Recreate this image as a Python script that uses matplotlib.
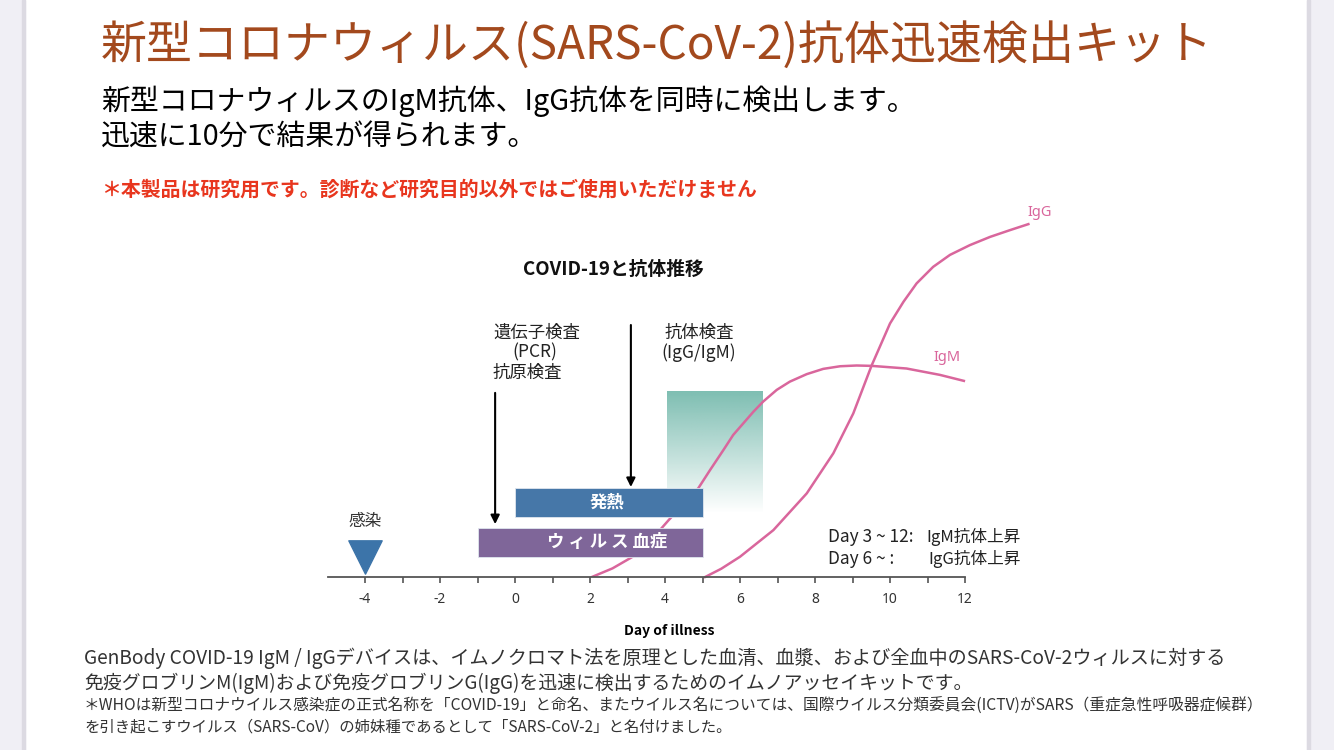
import numpy as np
import matplotlib
matplotlib.use('Agg')
import matplotlib.pyplot as plt
from matplotlib.patches import Rectangle

plt.rcParams['font.family'] = ['Noto Sans CJK JP', 'DejaVu Sans']

# --- data ---
igm_days = [2.05, 2.6, 3.12, 3.6, 4.1, 4.89, 5.2, 5.56, 5.82, 6.09, 6.36, 6.62, 6.98, 7.33, 7.78,
            8.22, 8.67, 9.11, 9.51, 10.44, 11.33, 11.97]
igm_level = [0, 2.3, 5.3, 9.5, 15.2, 23.7, 28.5, 33.9, 37.9, 41.0, 44.1, 46.8, 49.9, 52.1, 54.1,
             55.5, 56.2, 56.4, 56.3, 55.6, 53.9, 52.3]
igg_days = [5.07, 5.5, 6.0, 6.89, 7.78, 8.49, 9.02, 9.51, 10.0, 10.36, 10.71, 11.15, 11.6, 12.13,
            12.67, 13.2, 13.69]
igg_level = [0, 2.2, 5.4, 12.5, 22.3, 33.0, 43.6, 56.4, 67.6, 73.4, 78.3, 82.7, 85.9, 88.5,
             90.7, 92.5, 94.1]

bar_names = ['発熱', 'ウ ィ ル ス 血症']
bar_start = [0, -1]
bar_end = [5, 5]
bar_level = [19.8, 9.3]
bar_colors = ['#4677a8', '#7f6699']

infection_day = -4
pcr_day = -0.53
antibody_day = 3.09
test_window = [4.05, 6.6]

tick_days = list(range(-4, 13))
tick_labels = [str(d) if d % 2 == 0 else '' for d in tick_days]

W, H = 1334, 750
fig = plt.figure(figsize=(W / 100, H / 100), dpi=100)
fig.patch.set_facecolor('white')

# side strips of the page
fig.patches.append(Rectangle((0, 0), 25 / W, 1, transform=fig.transFigure, color='#f0eff5', zorder=0))
fig.patches.append(Rectangle((22 / W, 0), 3 / W, 1, transform=fig.transFigure, color='#dcdae2', zorder=0))
fig.patches.append(Rectangle((1307 / W, 0), 27 / W, 1, transform=fig.transFigure, color='#f0eff5', zorder=0))
fig.patches.append(Rectangle((1307 / W, 0), 3 / W, 1, transform=fig.transFigure, color='#dcdae2', zorder=0))

def px(x, y):
    return x / W, 1 - y / H

jp = ['Noto Sans CJK JP', 'DejaVu Sans']

fig.text(*px(101, 46), '新型コロナウィルス(SARS-CoV-2)抗体迅速検出キット', fontsize=33.1,
         color='#a3491d', va='center', ha='left', family=jp)
fig.text(*px(101, 101), '新型コロナウィルスのIgM抗体、IgG抗体を同時に検出します。', fontsize=20.8,
         color='black', va='center', ha='left', family=jp)
fig.text(*px(101, 137), '迅速に10分で結果が得られます。', fontsize=20.8,
         color='black', va='center', ha='left', family=jp)
fig.text(*px(101, 189), '＊本製品は研究用です。診断など研究目的以外ではご使用いただけません', fontsize=14.3,
         color='#e8361e', va='center', ha='left', weight='bold', family=jp)

fig.text(*px(84, 658), 'GenBody COVID-19 IgM / IgGデバイスは、イムノクロマト法を原理とした血清、血漿、および全血中のSARS-CoV-2ウィルスに対する',
         fontsize=13.8, color='#333333', va='center', ha='left', family=jp)
fig.text(*px(84, 683), '免疫グロブリンM(IgM)および免疫グロブリンG(IgG)を迅速に検出するためのイムノアッセイキットです。',
         fontsize=13.6, color='#333333', va='center', ha='left', family=jp)
fig.text(*px(84, 706), '＊WHOは新型コロナウイルス感染症の正式名称を「COVID-19」と命名、またウイルス名については、国際ウイルス分類委員会(ICTV)がSARS（重症急性呼吸器症候群）',
         fontsize=11.3, color='#333333', va='center', ha='left', family=jp)
fig.text(*px(84, 727), 'を引き起こすウイルス（SARS-CoV）の姉妹種であるとして「SARS-CoV-2」と名付けました。',
         fontsize=11.1, color='#333333', va='center', ha='left', family=jp)

# chart axes: day -6..14 -> px 290..1040, level 0..100 -> px 577..202
ax = fig.add_axes([290 / W, (H - 577) / H, 750 / W, 375 / H])
ax.set_xlim(-6, 14)
ax.set_ylim(0, 100)
ax.patch.set_alpha(0)
for s in ['top', 'right', 'left']:
    ax.spines[s].set_visible(False)
ax.spines['bottom'].set_bounds(-5, 12)
ax.spines['bottom'].set_color('#555555')
ax.spines['bottom'].set_linewidth(1.3)
ax.set_yticks([])
ax.set_xticks(tick_days)
ax.set_xticklabels(tick_labels, family=['Noto Sans', 'DejaVu Sans'])
ax.tick_params(axis='x', length=4.5, width=1.2, color='#555555', pad=6, labelsize=10, labelcolor='#333333')
ax.set_xlabel('Day of illness', fontsize=10, weight='bold', family=jp)
ax.xaxis.set_label_coords((4.1 + 6) / 20, -0.125)

# antibody test window, fading downward
grad = np.zeros((100, 2, 4))
grad[..., :3] = np.array([126, 190, 178]) / 255
grad[..., 3] = np.linspace(1, 0, 100)[:, None]
ax.imshow(grad, extent=(test_window[0], test_window[1], 17, 49.3), aspect='auto', origin='upper', zorder=1)

ax.plot(igm_days, igm_level, color='#d9669c', lw=1.8, zorder=2, solid_joinstyle='round')
ax.plot(igg_days, igg_level, color='#d9669c', lw=1.8, zorder=2, solid_joinstyle='round', clip_on=False)
ax.text(11.52, 58.6, 'IgM', color='#d9669c', fontsize=10.5, ha='center', va='center', family=['Noto Sans', 'DejaVu Sans'])
ax.text(14.0, 97.2, 'IgG', color='#d9669c', fontsize=10.5, ha='center', va='center', family=['Noto Sans', 'DejaVu Sans'], clip_on=False)

for name, x0, x1, y, c in zip(bar_names, bar_start, bar_end, bar_level, bar_colors):
    ax.barh(y, x1 - x0, left=x0, height=7.8, color=c, edgecolor='#dfe6ee', linewidth=0.6, zorder=3)
    ax.text(2.45, y, name, color='white', fontsize=12.5, weight='bold', ha='center', va='center', zorder=4)

ax.scatter([infection_day], [5.3], marker='v', s=24 ** 2, color='#3c74a9', zorder=4, clip_on=False)
ax.text(infection_day, 14.7, '感染', fontsize=12, color='#333333', ha='center', va='center')

arrow = dict(arrowstyle='-|>', color='black', lw=1.5, mutation_scale=13, shrinkA=0, shrinkB=0)
ax.annotate('', xy=(pcr_day, 14.1), xytext=(pcr_day, 49.1), arrowprops=arrow)
ax.annotate('', xy=(antibody_day, 24.0), xytext=(antibody_day, 67.2), arrowprops=arrow)

ax.text(-0.59, 65.1, '遺伝子検査', fontsize=12.5, color='#222222', ha='left', va='center')
ax.text(0.53, 60.0, '(PCR)', fontsize=12.5, color='#222222', ha='center', va='center')
ax.text(-0.59, 54.5, '抗原検査', fontsize=12.5, color='#222222', ha='left', va='center')
ax.text(4.92, 65.1, '抗体検査', fontsize=12.5, color='#222222', ha='center', va='center')
ax.text(4.9, 59.7, '(IgG/IgM)', fontsize=12.5, color='#222222', ha='center', va='center')
ax.text(2.63, 82.1, 'COVID-19と抗体推移', fontsize=13.5, weight='bold', color='#111111', ha='center', va='center')

ax.text(8.35, 10.7, 'Day 3 ~ 12:', fontsize=12.5, color='#222222', ha='left', va='center')
ax.text(10.98, 10.7, 'IgM抗体上昇', fontsize=12, color='#222222', ha='left', va='center')
ax.text(8.35, 4.8, 'Day 6 ~ :', fontsize=12.5, color='#222222', ha='left', va='center')
ax.text(11.03, 4.8, 'IgG抗体上昇', fontsize=12, color='#222222', ha='left', va='center')

fig.savefig('out.png', dpi=100)
